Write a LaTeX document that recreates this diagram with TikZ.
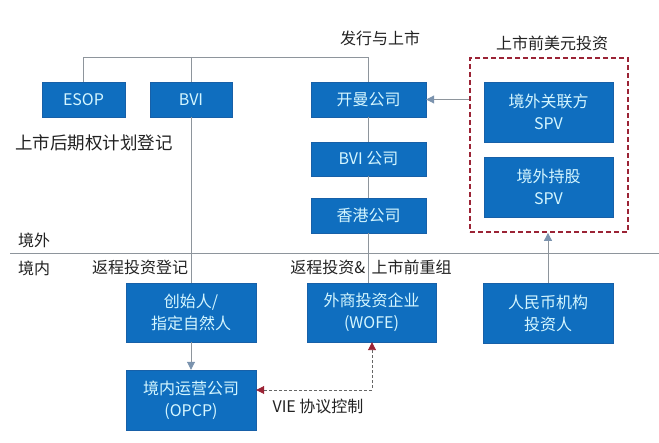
\documentclass[tikz,border=0pt]{standalone}
\usepackage{fontspec}
\setmainfont{Noto Sans CJK SC}
\usetikzlibrary{arrows.meta}
\definecolor{boxblue}{HTML}{0F6EBF}
\definecolor{boxedge}{HTML}{1760A8}
\definecolor{boxtext}{HTML}{D4F6FF}
\definecolor{linegray}{HTML}{8E959C}
\definecolor{tipblue}{HTML}{7B93AE}
\definecolor{darkred}{HTML}{9B2335}
\definecolor{labelgray}{HTML}{222222}
\tikzset{
  bluebox/.style={draw=boxedge, fill=boxblue, text=boxtext, font=\fontsize{16}{22}\selectfont,
    minimum width=#1, align=center, inner sep=0pt},
  bluebox/.default=83pt,
  lbl/.style={text=labelgray, font=\fontsize{16}{18}\selectfont, inner sep=0pt},
  conn/.style={draw=linegray, line width=0.9pt},
  arr/.style={conn, -{Triangle[length=8pt,width=8pt,fill=tipblue,color=tipblue]}},
  vie/.style={draw=black!60, dashed, dash pattern=on 3pt off 2pt, line width=0.9pt,
    {Triangle[length=8pt,width=8pt,color=darkred]}-{Triangle[length=8pt,width=8pt,color=darkred]}},
}
\begin{document}
\begin{tikzpicture}[x=1pt,y=-1pt]
\useasboundingbox (0,0) rectangle (659,443);
% boxes
\node[bluebox=83pt, minimum height=35pt] (esop) at (83.5,99.5) {ESOP};
\node[bluebox=82pt, minimum height=35pt] (bvi) at (191,99.5) {BVI};
\node[bluebox=115pt, minimum height=35pt] (km) at (368.5,99.5) {开曼公司};
\node[bluebox=115pt, minimum height=34pt] (bvic) at (368.5,159) {BVI 公司};
\node[bluebox=115pt, minimum height=35pt] (hk) at (368.5,215.5) {香港公司};
\node[bluebox=129pt, minimum height=60pt] (spv1) at (548.5,112) {境外关联方\\SPV};
\node[bluebox=129pt, minimum height=60pt] (spv2) at (548.5,187) {境外持股\\SPV};
\node[bluebox=130pt, minimum height=59pt] (cs) at (191,312.5) {创始人/\\指定自然人};
\node[bluebox=130pt, minimum height=60pt] (op) at (191,400) {境内运营公司\\(OPCP)};
\node[bluebox=129pt, minimum height=59pt] (wofe) at (371.5,312.5) {外商投资企业\\(WOFE)};
\node[bluebox=130pt, minimum height=60pt] (rmb) at (548,313) {人民币机构\\投资人};
% dashed group
\node[draw=darkred, line width=1.8pt, dash pattern=on 5pt off 3pt, minimum width=158pt, minimum height=174pt, inner sep=0pt] (grp) at (549,145) {};
% labels
\node[lbl] (l1) at (380,38) {发行与上市};
\node[lbl] (l2) at (552,43) {上市前美元投资};
\node[lbl, font=\fontsize{17.5}{19}\selectfont] (l3) at (94,143) {上市后期权计划登记};
\node[lbl] (l4) at (34,240) {境外};
\node[lbl] (l5) at (34,268) {境内};
\node[lbl] (l6) at (140,267) {返程投资登记};
\node[lbl] (l7) at (371,267) {返程投资\&\, 上市前重组};
\node[lbl] (l8) at (318,406) {VIE 协议控制};
% divider
\coordinate (d1) at (10,253);
\coordinate (d2) at (659,253);
\draw[conn] (d1) -- (d2);
% top connector
\coordinate (t1) at (esop.north |- 0,57);
\coordinate (t2) at (bvi.north |- 0,57);
\coordinate (t3) at (km.north |- 0,57);
\draw[conn] (esop.north) -- (t1) -- (t3) -- (km.north);
\draw[conn] (t2) -- (bvi.north);
% vertical lines
\draw[conn] (bvi.south) -- (bvi.south |- cs.north);
\draw[conn] (km.south) -- (bvic.north);
\draw[conn] (bvic.south) -- (hk.north);
\draw[conn] (hk.south) -- (hk.south |- wofe.north);
% arrows
\draw[arr] (grp.west |- km.east) -- (km.east);
\draw[arr] (rmb.north) -- (rmb.north |- grp.south);
\draw[arr] (cs.south) -- (op.north);
\coordinate (vc) at (372,390);
\draw[vie] (op.east |- vc) -- (vc) -- (vc |- wofe.south);
\end{tikzpicture}
\end{document}
